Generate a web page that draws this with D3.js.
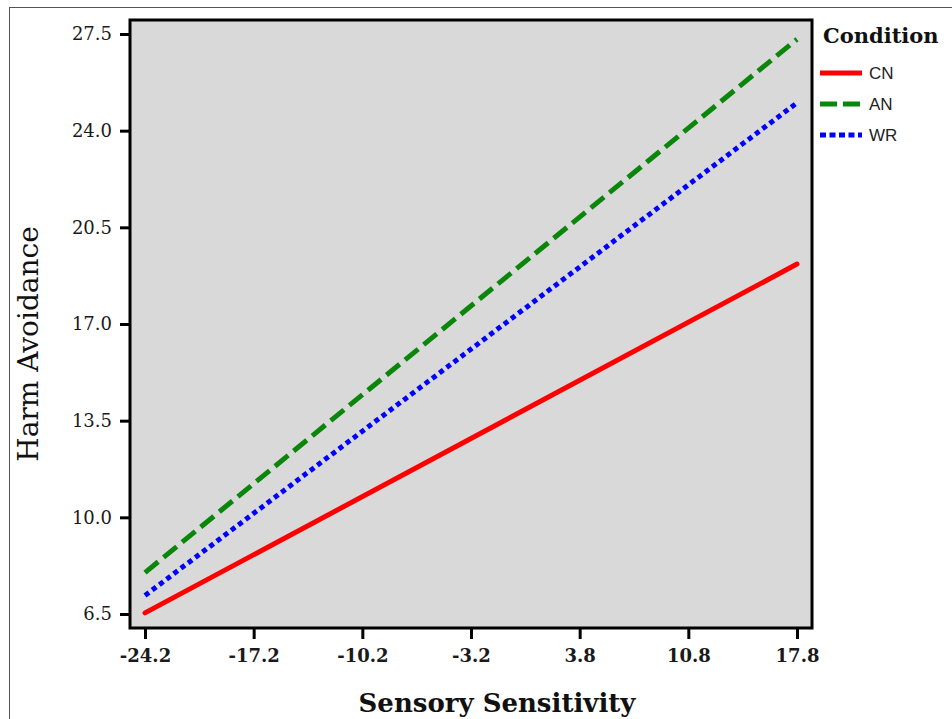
<!DOCTYPE html>
<html>
<head>
<meta charset="utf-8">
<script src="https://cdn.jsdelivr.net/npm/d3@7"></script>
<style>
  body { margin:0; background:#fff; }
  svg { display:block; }
</style>
</head>
<body>
<div id="chart"></div>
<script>
(function(window, document, undefined){

// ******** data ********//
var conditions = ["CN", "AN", "WR"];
var sensX = [-24.2, 17.8];           // sensory sensitivity at the line ends
var cnValues = [6.54, 19.17];
var anValues = [8.0, 27.31];
var wrValues = [7.17, 25.01];
var xTicks = [-24.2, -17.2, -10.2, -3.2, 3.8, 10.8, 17.8];
var yTicks = [6.5, 10.0, 13.5, 17.0, 20.5, 24.0, 27.5];

var W = 952, H = 719;
var serif = "'DejaVu Serif', Georgia, serif";
// plain hyphen for negatives, like the original
var fmt = function(d){ return d3.format(".1f")(d).replace("\u2212", "-"); };

var svg = d3.select("#chart").append("svg")
    .attr("width", W).attr("height", H);

// thin outer frame (runs off the right and bottom of the picture)
svg.append("rect")
    .attr("x", 9.5).attr("y", 7.5)
    .attr("width", 1000).attr("height", 1000)
    .style("fill", "none").style("stroke", "#555").style("stroke-width", 1);

// scales map the outer ticks, plot box is padded round them
var x = d3.scaleLinear().domain([xTicks[0], xTicks[xTicks.length-1]]).range([145, 797]);
var y = d3.scaleLinear().domain([yTicks[0], yTicks[yTicks.length-1]]).range([614, 34]);
var box = {left:130, right:812, top:20, bottom:628};

svg.append("rect")
    .attr("x", box.left).attr("y", box.top)
    .attr("width", box.right - box.left).attr("height", box.bottom - box.top)
    .style("fill", "#d9d9d9").style("stroke", "#000").style("stroke-width", 3);

// axes
var xAxis = svg.append("g")
    .attr("transform", "translate(0," + box.bottom + ")")
    .call(d3.axisBottom(x).tickValues(xTicks).tickFormat(fmt)
        .tickSize(11).tickPadding(10));
var yAxis = svg.append("g")
    .attr("transform", "translate(" + box.left + ",0)")
    .call(d3.axisLeft(y).tickValues(yTicks).tickFormat(fmt)
        .tickSize(10).tickPadding(8));

[xAxis, yAxis].forEach(function(a){
  a.select(".domain").remove();
  a.selectAll(".tick line").style("stroke", "#000").style("stroke-width", 3);
  a.selectAll("text").style("fill", "#1a1a1a").style("font-family", serif);
});
xAxis.selectAll("text").style("font-size", "18px").style("font-weight", "bold");
yAxis.selectAll("text").style("font-size", "18px");

// axis titles
svg.append("text")
    .attr("x", 497).attr("y", 712)
    .attr("text-anchor", "middle")
    .style("font-family", serif).style("font-weight", "bold").style("font-size", "26px")
    .style("fill", "#111")
    .text("Sensory Sensitivity");
svg.append("text")
    .attr("transform", "translate(38,344) rotate(-90)")
    .attr("text-anchor", "middle")
    .style("font-family", serif).style("font-size", "28px")
    .style("fill", "#111")
    .text("Harm Avoidance");

// ******** lines ********//
var series = [
  {name: conditions[0], values: cnValues, color: "#ff0000", dash: null},
  {name: conditions[1], values: anValues, color: "#0a870a", dash: "17,7"},
  {name: conditions[2], values: wrValues, color: "#0000ff", dash: "5,4"}
];

var line = d3.line()
    .x(function(d){ return x(d[0]); })
    .y(function(d){ return y(d[1]); });

svg.append("g").selectAll("path")
    .data(series)
    .enter().append("path")
    .attr("d", function(s){ return line(d3.zip(sensX, s.values)); })
    .style("fill", "none")
    .style("stroke", function(s){ return s.color; })
    .style("stroke-width", 5)
    .style("stroke-linecap", function(s){ return s.dash ? "butt" : "round"; })
    .style("stroke-dasharray", function(s){ return s.dash; });

// ******** legend ********//
var legend = svg.append("g").attr("transform", "translate(820,0)");
legend.append("text")
    .attr("x", 3).attr("y", 43)
    .style("font-family", serif).style("font-weight", "bold").style("font-size", "21px")
    .style("fill", "#111")
    .text("Condition");

var item = legend.selectAll("g.item")
    .data(series)
    .enter().append("g")
    .attr("class", "item")
    .attr("transform", function(d, i){ return "translate(0," + (73 + i*31) + ")"; });
item.append("line")
    .attr("x1", 0).attr("x2", 42)
    .style("stroke", function(s){ return s.color; })
    .style("stroke-width", 5)
    .style("stroke-dasharray", function(s){ return s.dash ? (s.dash == "5,4" ? "6,3.5" : "17,6") : null; });
item.append("text")
    .attr("x", 49).attr("y", 6)
    .style("font-family", "'Liberation Sans', Arial, sans-serif").style("font-size", "17px")
    .style("fill", "#222")
    .text(function(s){ return s.name; });

})(this, document);
</script>
</body>
</html>
